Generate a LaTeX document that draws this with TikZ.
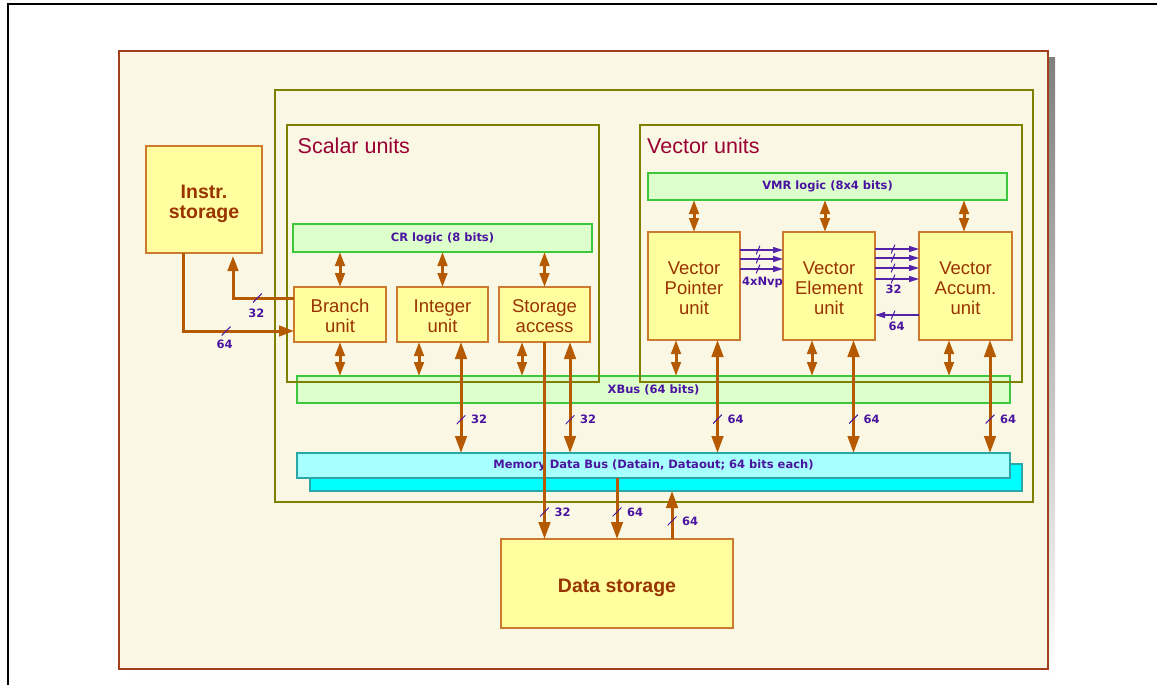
\documentclass[tikz,border=0pt]{standalone}
\usepackage{fontspec}
\setmainfont{Liberation Sans}
\newfontfamily\dejavu{DejaVu Sans}
\usetikzlibrary{arrows.meta}

\definecolor{paper}{HTML}{FAF8E4}
\definecolor{panelrim}{HTML}{A0401E}
\definecolor{shade}{HTML}{C0C0C0}
\definecolor{olive}{HTML}{7F7F00}
\definecolor{unitfill}{HTML}{FFFFA0}
\definecolor{unitrim}{HTML}{CC7A2E}
\definecolor{unittext}{HTML}{993300}
\definecolor{titletext}{HTML}{990033}
\definecolor{logicfill}{HTML}{DDFFCC}
\definecolor{logicrim}{HTML}{3CC83C}
\definecolor{busfill}{HTML}{A8FFFF}
\definecolor{busback}{HTML}{00FFFF}
\definecolor{busrim}{HTML}{2AA8A8}
\definecolor{wire}{HTML}{B55A00}
\definecolor{ink}{HTML}{4B14A0}
\definecolor{pwire}{HTML}{5522AA}

\newcommand\unitfont{\fontsize{18.5}{20}\selectfont}
\newcommand\storefont{\bfseries\fontsize{19.5}{20.3}\selectfont}
\newcommand\titlefont{\fontsize{21.5}{24}\selectfont}
\newcommand\buslabfont{\dejavu\bfseries\fontsize{11.5}{13}\selectfont}

\begin{document}
\begin{tikzpicture}[x=1pt, y=-1pt,
  rim/.style={rectangle, inner sep=0pt, outer sep=0pt},
  unitbox/.style={rim, draw=unitrim, fill=unitfill, line width=1.3pt},
  unittxt/.style={text=unittext, align=center, font=\unitfont, inner sep=0pt},
  boldtxt/.style={unittxt, font=\storefont},
  logic/.style={rim, draw=logicrim, fill=logicfill, line width=1.3pt, text=ink, font=\buslabfont},
  bus/.style={rim, draw=busrim, fill=busfill, line width=1.3pt, text=ink, font=\buslabfont},
  frame/.style={rim, draw=olive, line width=2.7pt},
  title/.style={inner sep=0pt, text=titletext, font=\titlefont},
  wirebase/.style={draw=wire, line width=3pt},
  dbl/.style={wirebase, {Triangle[length=14pt,width=9.5pt]}-{Triangle[length=14pt,width=9.5pt]}},
  dbllong/.style={wirebase, {Triangle[length=17pt,width=11.5pt]}-{Triangle[length=17pt,width=11.5pt]}},
  onelong/.style={wirebase, -{Triangle[length=17pt,width=11.5pt]}},
  feed/.style={wirebase, -{Triangle[length=15pt,width=10.5pt]}},
  parrow/.style={draw=pwire, line width=1.4pt, -{Triangle[length=10pt,width=6pt]}},
  tickpen/.style={draw=ink, line width=1pt, -, shorten >=0pt, shorten <=0pt},
  wtick/.style={rectangle, inner sep=0pt, outer sep=0pt, minimum width=9pt, minimum height=9pt,
    path picture={\draw[tickpen] (path picture bounding box.south west) -- (path picture bounding box.north east);}},
  ptick/.style={wtick, minimum width=4pt},
  wlab/.style={font=\buslabfont, text=ink, inner sep=0pt},
]
\useasboundingbox (0,0) rectangle (1157,685);

% sheet: shadow, panel and page rule
\fill[shade] (126,58) rectangle (1055,676);
\node[rim, draw=panelrim, fill=paper, line width=1.3pt, minimum width=929pt, minimum height=618pt] (panel) at (583.5,360) {};
\draw[black, line width=1.8pt] (7.7,685) -- (7.7,3.7) -- (1157,3.7);

% buses
\node[bus, fill=busback, minimum width=712pt, minimum height=27pt] (memb) at (666,477.5) {};
\node[bus, minimum width=713pt, minimum height=25pt] (mem) at (653.5,465.5) {Memory Data Bus (Datain, Dataout; 64 bits each)};
\node[logic, minimum width=713pt, minimum height=27pt] (xbus) at (653.5,389.5) {XBus (64 bits)};

% frames
\node[frame, minimum width=758pt, minimum height=412pt] (core) at (654,296) {};
\node[frame, minimum width=312pt, minimum height=257pt] (scalar) at (443,253.5) {};
\node[frame, minimum width=382pt, minimum height=257pt] (vector) at (831,253.5) {};
\node[title, anchor=base west] (scalartitle) at (297.5,153) {Scalar units};
\node[title, anchor=base west] (vectortitle) at (647,153) {Vector units};

% logic bars
\node[logic, minimum width=299pt, minimum height=28pt] (cr) at (442.5,238) {CR logic (8 bits)};
\node[logic, minimum width=359pt, minimum height=27pt] (vmr) at (827.5,186.5) {VMR logic (8x4 bits)};

% units
\node[unitbox, minimum width=116pt, minimum height=107pt,
  label={[boldtxt, yshift=-4.4pt]center:Instr.\\storage}] (instr) at (204,199.5) {};
\node[unitbox, minimum width=92pt, minimum height=55pt,
  label={[unittxt, yshift=-1.5pt]center:Branch\\unit}] (branch) at (340,314.5) {};
\node[unitbox, minimum width=91pt, minimum height=55pt,
  label={[unittxt, yshift=-1.5pt]center:Integer\\unit}] (integer) at (442.5,314.5) {};
\node[unitbox, minimum width=91pt, minimum height=55pt,
  label={[unittxt, yshift=-1.5pt]center:Storage\\access}] (storage) at (544.5,314.5) {};
\node[unitbox, minimum width=92pt, minimum height=108pt,
  label={[unittxt, yshift=-2.3pt]center:Vector\\Pointer\\unit}] (vp) at (694,286) {};
\node[unitbox, minimum width=92pt, minimum height=108pt,
  label={[unittxt, yshift=-2.3pt]center:Vector\\Element\\unit}] (ve) at (829,286) {};
\node[unitbox, minimum width=93pt, minimum height=108pt,
  label={[unittxt, yshift=-2.3pt]center:Vector\\Accum.\\unit}] (va) at (965.5,286) {};
\node[unitbox, minimum width=232pt, minimum height=89pt,
  label={[boldtxt, yshift=-3.9pt]center:Data storage}] (ds) at (617,583.5) {};

% instruction storage links
\coordinate (iso) at ([xshift=-21pt]instr.south);
\coordinate (bi) at ([yshift=-16.5pt]branch.west);
\draw[feed] (iso) |- (bi)
  node[wtick, pos=0.694, label={[wlab, label distance=2.5pt, xshift=-1.5pt]below:64}] {};
\coordinate (bo) at ([yshift=16.5pt]branch.west);
\coordinate (isi) at ([xshift=29pt]instr.south);
\draw[feed, shorten >=3pt] (bo) -| (isi)
  node[wtick, pos=0.3, label={[wlab, label distance=4.5pt, xshift=-1pt]below:32}] {};

% scalar unit links
\draw[dbl] (branch.north) -- (branch.north |- cr.south);
\draw[dbl] (integer.north) -- (integer.north |- cr.south);
\draw[dbl] (storage.north) -- (storage.north |- cr.south);
\draw[dbl] (branch.south) -- (branch.south |- xbus.north);
\coordinate (ix) at ([xshift=-23.5pt]integer.south);
\coordinate (im) at ([xshift=18.5pt]integer.south);
\coordinate (sx) at ([xshift=-22.5pt]storage.south);
\coordinate (sm) at ([xshift=25.5pt]storage.south);
\draw[dbl] (ix) -- (ix |- xbus.north);
\draw[dbl] (sx) -- (sx |- xbus.north);
\draw[dbllong] (im) -- (im |- mem.north)
  node[wtick, pos=0.7, label={[wlab, label distance=4pt]east:32}] {};
\draw[dbllong] (sm) -- (sm |- mem.north)
  node[wtick, pos=0.7, label={[wlab, label distance=4pt]east:32}] {};
\draw[onelong] (storage.south) -- (storage.south |- ds.north)
  node[wtick, pos=0.863, label={[wlab, label distance=4pt]east:32}] {};

% vector unit links
\coordinate (vmrve) at ([xshift=-4pt]ve.north);
\coordinate (vmrva) at ([xshift=-1.5pt]va.north);
\draw[dbl] (vp.north) -- (vp.north |- vmr.south);
\draw[dbl] (vmrve) -- (vmrve |- vmr.south);
\draw[dbl] (vmrva) -- (vmrva |- vmr.south);
\coordinate (vpx) at ([xshift=-18pt]vp.south);
\coordinate (vpm) at ([xshift=23.5pt]vp.south);
\coordinate (vex) at ([xshift=-17pt]ve.south);
\coordinate (vem) at ([xshift=24.5pt]ve.south);
\coordinate (vax) at ([xshift=-16.5pt]va.south);
\coordinate (vam) at ([xshift=24.5pt]va.south);
\draw[dbl] (vpx) -- (vpx |- xbus.north);
\draw[dbl] (vex) -- (vex |- xbus.north);
\draw[dbl] (vax) -- (vax |- xbus.north);
\draw[dbllong] (vpm) -- (vpm |- mem.north)
  node[wtick, pos=0.7, label={[wlab, label distance=4pt]east:64}] {};
\draw[dbllong] (vem) -- (vem |- mem.north)
  node[wtick, pos=0.7, label={[wlab, label distance=4pt]east:64}] {};
\draw[dbllong] (vam) -- (vam |- mem.north)
  node[wtick, pos=0.7, label={[wlab, label distance=4pt]east:64}] {};

% vector data paths
\foreach \s/\n in {36/1,27/2,17/3} \coordinate (pv\n) at ([yshift=\s pt]vp.east);
\draw[parrow] (pv1) -- (pv1 -| ve.west) node[ptick, pos=0.42] {};
\draw[parrow] (pv2) -- (pv2 -| ve.west) node[ptick, pos=0.42] {};
\draw[parrow] (pv3) -- (pv3 -| ve.west)
  node[ptick, pos=0.42, label={[wlab, label distance=3pt, xshift=4.5pt]below:4xNvp}] {};
\foreach \s/\n in {37/1,28/2,18/3,7/4} \coordinate (pe\n) at ([yshift=\s pt]ve.east);
\draw[parrow] (pe1) -- (pe1 -| va.west) node[ptick, pos=0.41] {};
\draw[parrow] (pe2) -- (pe2 -| va.west) node[ptick, pos=0.41] {};
\draw[parrow] (pe3) -- (pe3 -| va.west) node[ptick, pos=0.41] {};
\draw[parrow] (pe4) -- (pe4 -| va.west)
  node[ptick, pos=0.41, label={[wlab, label distance=0.5pt, xshift=0.5pt]below:32}] {};
\coordinate (pa) at ([yshift=-29pt]va.west);
\draw[parrow] (pa) -- (pa -| ve.east)
  node[ptick, pos=0.59, label={[wlab, label distance=1.5pt, xshift=3.5pt]below:64}] {};

% memory to data storage
\draw[onelong] (ds.north |- mem.south) -- (ds.north)
  node[wtick, pos=0.557, label={[wlab, label distance=4pt]east:64}] {};
\coordinate (dsup) at ([xshift=55pt]ds.north);
\draw[onelong] (dsup) -- (dsup |- memb.south)
  node[wtick, pos=0.375, label={[wlab, label distance=4pt]east:64}] {};
\end{tikzpicture}
\end{document}
